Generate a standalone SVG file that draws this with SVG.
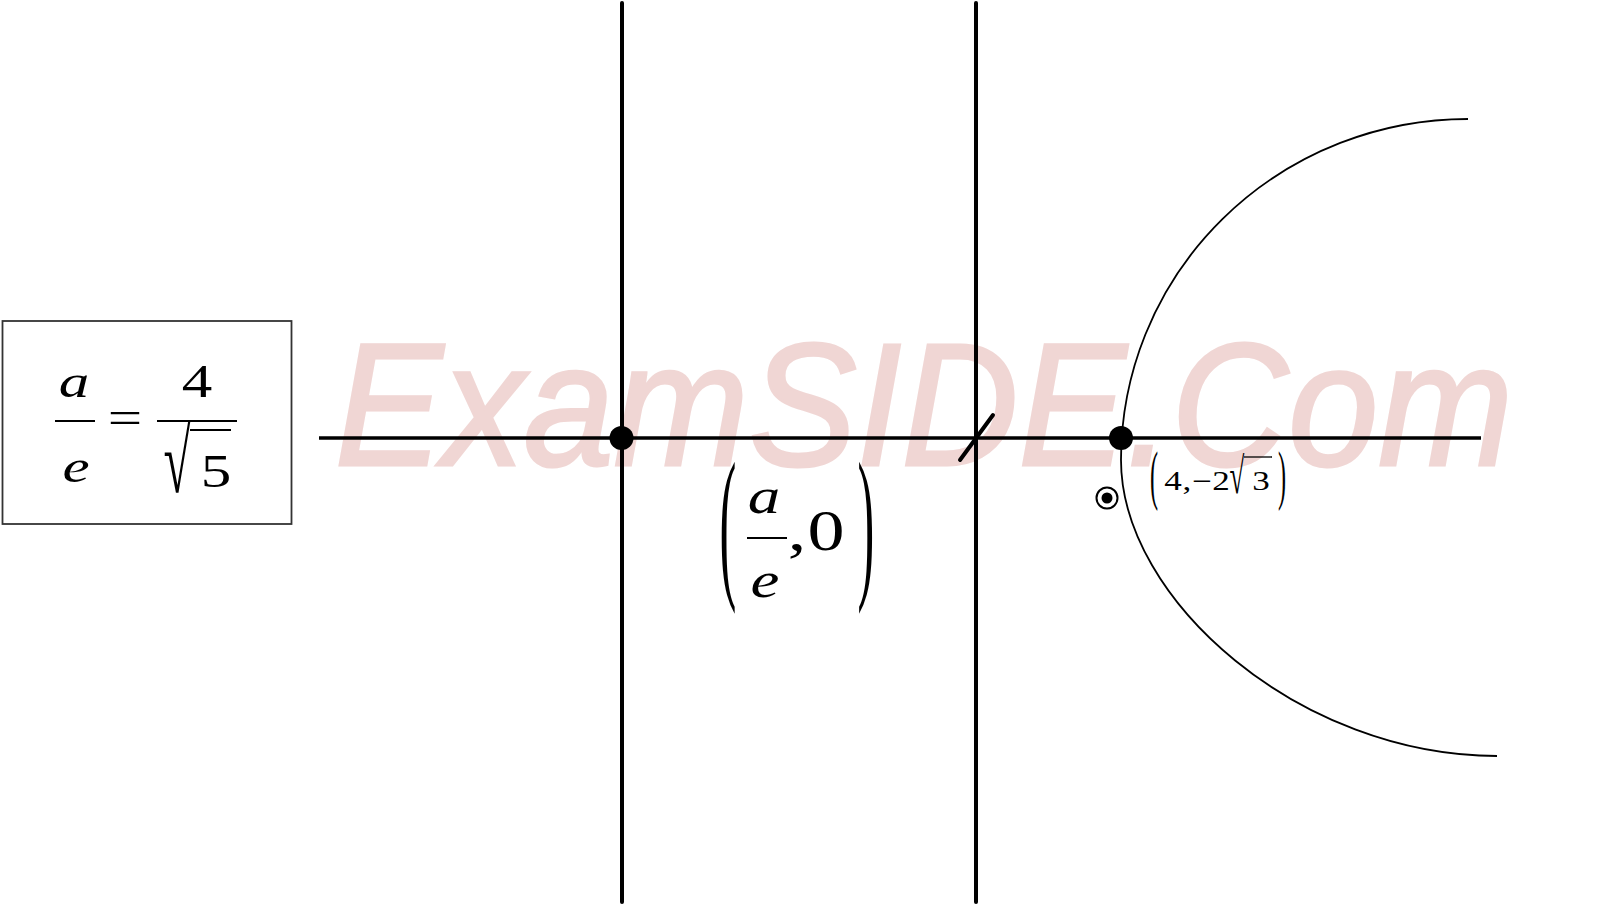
<svg xmlns="http://www.w3.org/2000/svg" width="1600" height="905" viewBox="0 0 1600 905">
  <style>
    .math { font-family: "Liberation Serif", "Times New Roman", serif; fill: #000; }
    .it { font-style: italic; }
    .axis { stroke: #000; stroke-width: 4; stroke-linecap: round; fill: none; }
    .thin { stroke: #000; stroke-width: 2; fill: none; }
    .wm { font-family: "Liberation Sans", Arial, sans-serif; font-style: italic; fill: #f0d6d4; stroke: #f0d6d4; stroke-width: 3; }
  </style>
  <rect x="0" y="0" width="1600" height="905" fill="#fff"/>

  <!-- watermark -->
  <text class="wm" x="335" y="465" font-size="174" textLength="1178" lengthAdjust="spacingAndGlyphs">ExamSIDE.Com</text>

  <!-- connectors / lines -->
  <g id="connectors">
    <line class="axis" x1="622" y1="3" x2="622" y2="902"/>
    <line class="axis" x1="976" y1="3" x2="976" y2="902"/>
    <line x1="319" y1="438" x2="1481" y2="438" stroke="#000" stroke-width="3.4"/>
    <line class="axis" x1="960" y1="460" x2="993" y2="415"/>
    <path d="M1468,119 A347,341 0 0,0 1121,460 C1121,600 1300,756 1497,756" fill="none" stroke="#000" stroke-width="1.8"/>
  </g>

  <!-- points -->
  <g id="point-ae">
    <circle cx="621.5" cy="438" r="12" fill="#000"/>
  </g>
  <g id="point-vertex">
    <circle cx="1121" cy="438" r="12" fill="#000"/>
  </g>
  <g id="focus-marker">
    <circle cx="1107" cy="498" r="10.5" fill="none" stroke="#000" stroke-width="2"/>
    <circle cx="1107" cy="498" r="5.5" fill="#000"/>
  </g>

  <!-- box a/e = 4/sqrt5 -->
  <g id="formula-box">
    <rect x="2.5" y="321" width="289" height="203" fill="none" stroke="#333" stroke-width="1.8"/>
    <text class="math it" font-size="47" text-anchor="middle" transform="matrix(1.3 0 0 1 74 397)">a</text>
    <line class="thin" x1="55" y1="421" x2="95" y2="421"/>
    <text class="math it" font-size="47" text-anchor="middle" transform="matrix(1.3 0 0 1 76 482)">e</text>
    <text class="math" font-size="47" text-anchor="middle" transform="matrix(1.3 0 0 1 125 433)">=</text>
    <text class="math" font-size="47" text-anchor="middle" transform="matrix(1.3 0 0 1 197 397)">4</text>
    <line class="thin" x1="157" y1="421" x2="237" y2="421"/>
    <text class="math" font-size="47" text-anchor="middle" transform="matrix(1.05 0 0 1.93 177 492)">√</text>
    <line class="thin" x1="190" y1="430" x2="231" y2="430"/>
    <text class="math" font-size="47" text-anchor="middle" transform="matrix(1.3 0 0 1 216 487)">5</text>
  </g>

  <!-- label (a/e, 0) -->
  <g id="label-ae0">
    <text class="math" font-size="56" text-anchor="middle" transform="matrix(0.9 0 0 3.0 728 578)">(</text>
    <text class="math it" font-size="50" text-anchor="middle" transform="matrix(1.3 0 0 1 764 513)">a</text>
    <line class="thin" x1="747" y1="538" x2="787" y2="538"/>
    <text class="math it" font-size="50" text-anchor="middle" transform="matrix(1.3 0 0 1 765 597)">e</text>
    <text class="math" font-size="57" text-anchor="middle" transform="matrix(1.3 0 0 1 797 550)">,</text>
    <text class="math" font-size="57" text-anchor="middle" transform="matrix(1.3 0 0 1 826 550)">0</text>
    <text class="math" font-size="56" text-anchor="middle" transform="matrix(0.9 0 0 3.0 866 578)">)</text>
  </g>

  <!-- label (4, -2sqrt3) -->
  <g id="label-point">
    <text class="math" font-size="27" text-anchor="middle" transform="matrix(0.9 0 0 2.4 1154 496.8)">(</text>
    <text class="math" font-size="27" text-anchor="middle" transform="matrix(1.3 0 0 1 1173 490)">4</text>
    <text class="math" font-size="27" text-anchor="middle" transform="matrix(1.3 0 0 1 1187 490)">,</text>
    <text class="math" font-size="27" text-anchor="middle" transform="matrix(1.3 0 0 1 1202 490)">−</text>
    <text class="math" font-size="27" text-anchor="middle" transform="matrix(1.3 0 0 1 1221 490)">2</text>
    <text class="math" font-size="27" text-anchor="middle" transform="matrix(1.0 0 0 1.88 1237 493)">√</text>
    <line x1="1244" y1="457" x2="1272" y2="457" stroke="#000" stroke-width="1.3"/>
    <text class="math" font-size="27" text-anchor="middle" transform="matrix(1.3 0 0 1 1261 490)">3</text>
    <text class="math" font-size="27" text-anchor="middle" transform="matrix(0.9 0 0 2.4 1282 496.8)">)</text>
  </g>
</svg>
